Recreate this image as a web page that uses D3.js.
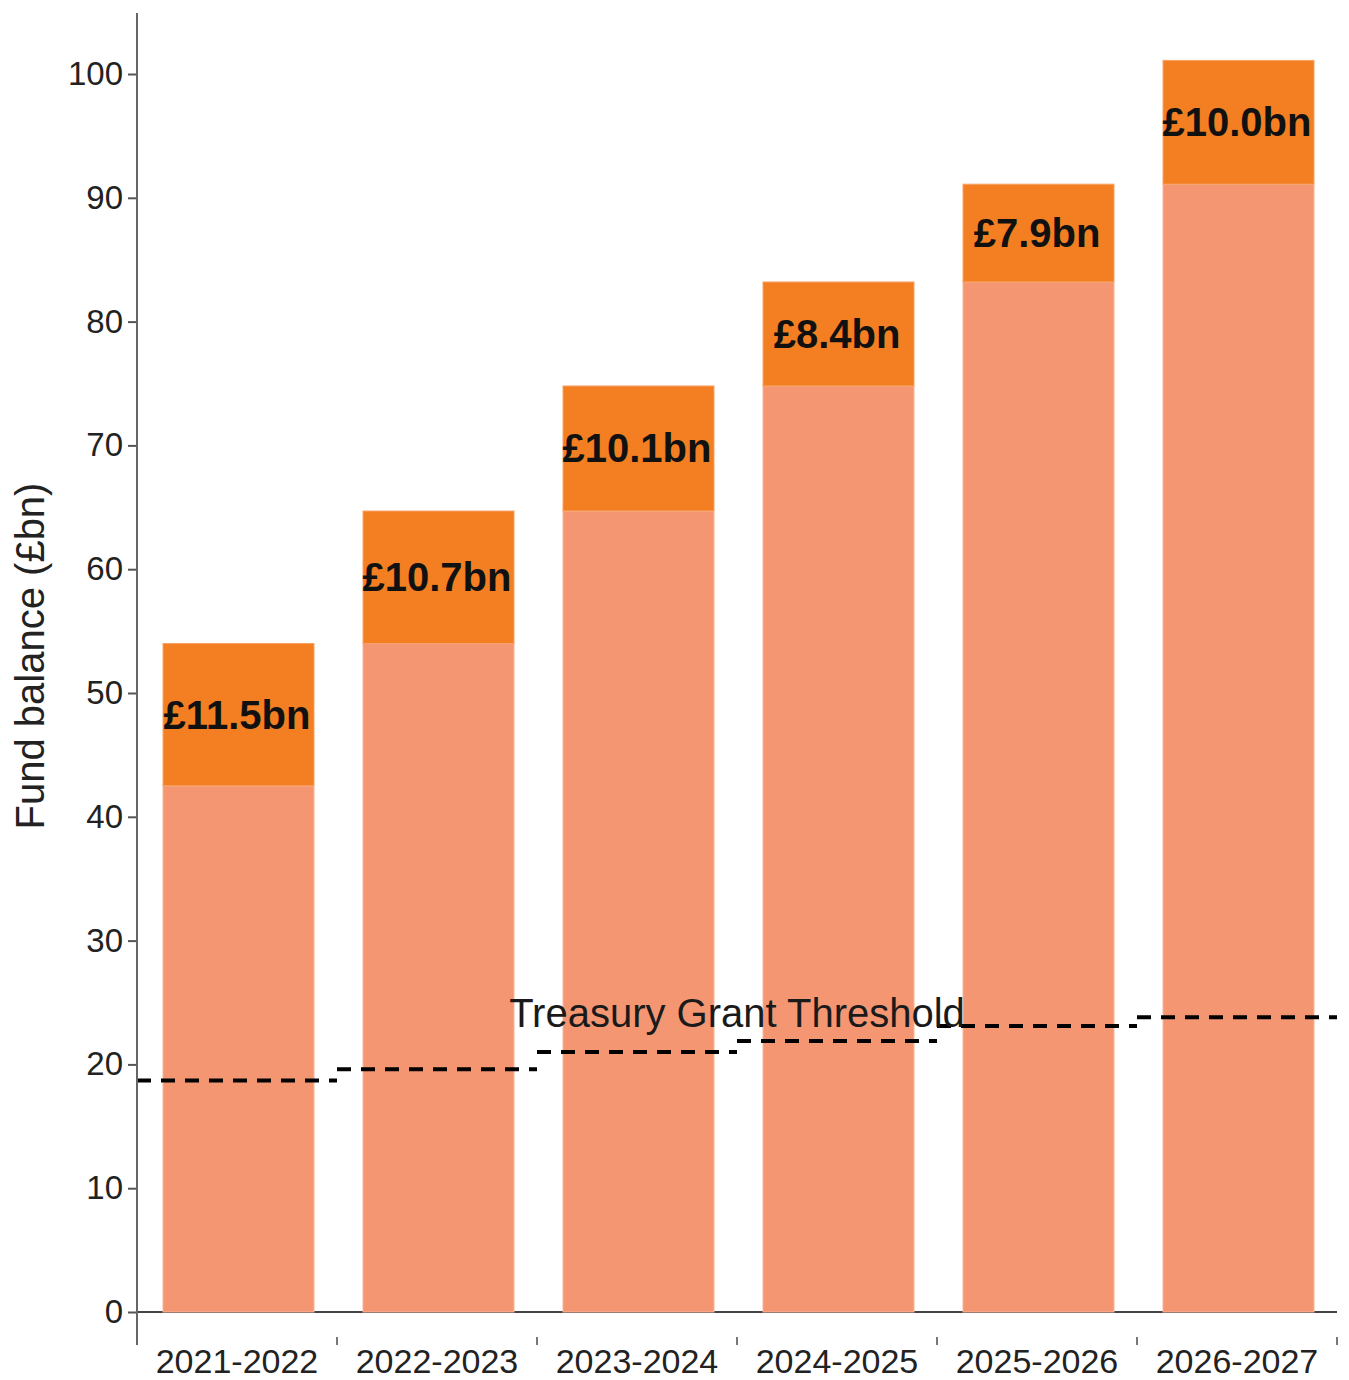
<!DOCTYPE html>
<html>
<head>
<meta charset="utf-8">
<script src="https://cdn.jsdelivr.net/npm/d3@7"></script>
<style>
  html, body { margin: 0; padding: 0; background: #fff; }
  svg { display: block; font-family: "Liberation Sans", Arial, sans-serif; }
</style>
</head>
<body>
<svg id="chart" width="1349" height="1380"></svg>
<script>
// Financial years on the x axis
const years = ["2021-2022", "2022-2023", "2023-2024", "2024-2025", "2025-2026", "2026-2027"];
// Opening fund balance (£bn) for each year
const openingBalance = [42.5, 54.0, 64.7, 74.8, 83.2, 91.1];
// Surplus added during each year (£bn)
const yearSurplus = [11.5, 10.7, 10.1, 8.4, 7.9, 10.0];
// Treasury grant threshold (£bn) for each year
const grantThreshold = [18.7, 19.6, 21.0, 21.9, 23.1, 23.8];
// Y-axis tick values
const yTicks = [0, 10, 20, 30, 40, 50, 60, 70, 80, 90, 100];

const svg = d3.select("#chart");
const left = 137, right = 1337, zeroY = 1312, hundredY = 74;

const x = d3.scaleBand().domain(years).range([left, right])
  .paddingInner(0.245).paddingOuter(0.1225);
const y = d3.scaleLinear().domain([0, 100]).range([zeroY, hundredY]);
const step = x.step();
const barShift = 1.5;

const baseColor = "#F59672";
const topColor = "#F37F22";

// Zero baseline
svg.append("line")
  .attr("x1", left).attr("x2", right)
  .attr("y1", y(0)).attr("y2", y(0))
  .attr("stroke", "#444").attr("stroke-width", 2);

// Opening balance segments
svg.append("g").selectAll("rect")
  .data(years)
  .join("rect")
  .attr("x", d => x(d) + barShift)
  .attr("width", x.bandwidth())
  .attr("y", (d, i) => y(openingBalance[i]))
  .attr("height", (d, i) => y(0) - y(openingBalance[i]))
  .attr("fill", baseColor)
  .attr("stroke", "#F8B49A").attr("stroke-width", 1);

// Surplus segments stacked on top
svg.append("g").selectAll("rect")
  .data(years)
  .join("rect")
  .attr("x", d => x(d) + barShift)
  .attr("width", x.bandwidth())
  .attr("y", (d, i) => y(openingBalance[i] + yearSurplus[i]))
  .attr("height", (d, i) => y(openingBalance[i]) - y(openingBalance[i] + yearSurplus[i]))
  .attr("fill", topColor)
  .attr("stroke", "#F7A36A").attr("stroke-width", 1);

// Surplus labels
svg.append("g").selectAll("text")
  .data(years)
  .join("text")
  .attr("x", d => x(d) + x.bandwidth() / 2)
  .attr("y", (d, i) => y(openingBalance[i] + yearSurplus[i] / 2))
  .attr("dy", "0.35em")
  .attr("text-anchor", "middle")
  .attr("font-size", 40)
  .attr("font-weight", "bold")
  .attr("fill", "#111")
  .text((d, i) => "£" + yearSurplus[i].toFixed(1) + "bn");

// Threshold steps, one dashed segment per year band
svg.append("g").selectAll("line")
  .data(years)
  .join("line")
  .attr("x1", d => x(d) - step * x.paddingOuter())
  .attr("x2", d => x(d) - step * x.paddingOuter() + step)
  .attr("y1", (d, i) => y(grantThreshold[i]))
  .attr("y2", (d, i) => y(grantThreshold[i]))
  .attr("stroke", "#000")
  .attr("stroke-width", 4)
  .attr("stroke-dasharray", "14 10");

svg.append("text")
  .attr("x", left + 3 * step)
  .attr("y", y(23.0))
  .attr("text-anchor", "middle")
  .attr("font-size", 40)
  .attr("fill", "#1a1a1a")
  .text("Treasury Grant Threshold");

// Y axis
const yAxis = svg.append("g")
  .attr("transform", `translate(${left},0)`)
  .call(d3.axisLeft(y).tickValues(yTicks).tickSize(9).tickPadding(5).tickFormat(d3.format("d")));
yAxis.select(".domain").remove();
yAxis.selectAll(".tick line").attr("stroke", "#555").attr("stroke-width", 2);
yAxis.selectAll(".tick text")
  .attr("font-size", 33).attr("fill", "#222")
  .attr("font-family", "'Liberation Sans', Arial, sans-serif");
svg.append("line")
  .attr("x1", left).attr("x2", left)
  .attr("y1", 13).attr("y2", 1345)
  .attr("stroke", "#666").attr("stroke-width", 2);

// X axis: ticks at band edges, labels at band centres
const edges = d3.range(1, years.length + 1).map(k => x(years[0]) - step * x.paddingOuter() + k * step);
svg.append("g").selectAll("line")
  .data(edges)
  .join("line")
  .attr("x1", d => d).attr("x2", d => d)
  .attr("y1", 1337).attr("y2", 1345)
  .attr("stroke", "#777").attr("stroke-width", 2);

svg.append("g").selectAll("text")
  .data(years)
  .join("text")
  .attr("x", d => x(d) + x.bandwidth() / 2)
  .attr("y", 1373)
  .attr("text-anchor", "middle")
  .attr("font-size", 34)
  .attr("fill", "#222")
  .text(d => d);

// Y axis title
svg.append("text")
  .attr("transform", `translate(44,${656}) rotate(-90)`)
  .attr("text-anchor", "middle")
  .attr("font-size", 40)
  .attr("fill", "#222")
  .text("Fund balance (£bn)");
</script>
</body>
</html>
